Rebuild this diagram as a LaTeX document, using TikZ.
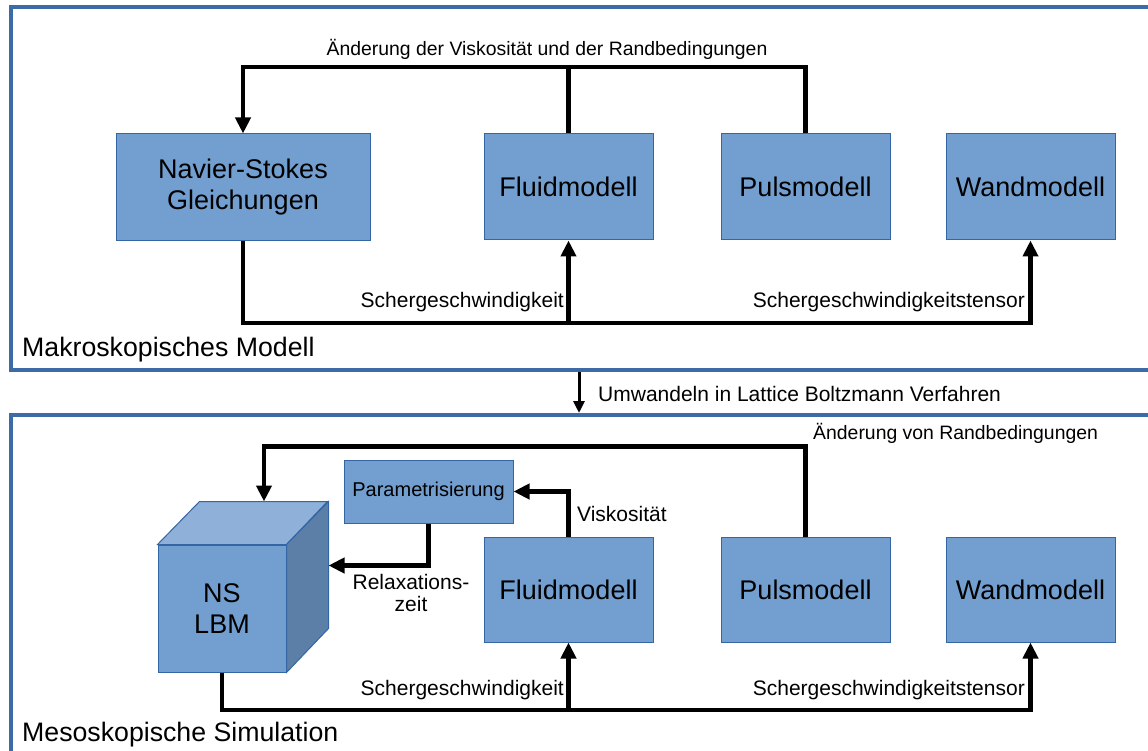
\documentclass[tikz,border=0pt]{standalone}
\usepackage{fontspec}
\setmainfont{Liberation Sans}
\usetikzlibrary{arrows.meta,calc}
\definecolor{boxblue}{HTML}{729FCF}
\definecolor{boxline}{HTML}{3465A4}
\definecolor{cubetop}{HTML}{8EB0D9}
\definecolor{cubeside}{HTML}{5C7FA8}
\definecolor{framecol}{HTML}{3D6BA8}
\begin{document}
\begin{tikzpicture}[x=1pt, y=-1pt,
    block/.style={draw=boxline, line width=1pt, fill=boxblue, minimum width=169pt,
      minimum height=106pt, inner sep=0pt, align=center, font=\fontsize{27}{31}\selectfont},
    lbl/.style={inner sep=0pt, align=center, font=\fontsize{21}{22}\selectfont},
    small/.style={lbl, font=\fontsize{19.4}{22}\selectfont},
    title/.style={inner sep=0pt, anchor=west, font=\fontsize{26.7}{30}\selectfont},
    frame/.style={draw=framecol, line width=3.5pt},
    line/.style={line width=4.5pt},
    conn/.style={line, -{Triangle[width=15pt,length=16pt]}}]
  \clip (0,0) rectangle (1148,751);
  % frames
  \draw[frame] (11,7) rectangle (1170,370);
  \draw[frame] (11,415) rectangle (1170,780);
  \coordinate (makro) at (579,372);
  \coordinate (meso) at (579,413);
  \draw[line width=3pt, -{Triangle[width=11pt,length=12pt]}] (makro) -- (meso);
  \node[lbl, anchor=west] (umw) at (598,394) {Umwandeln in Lattice Boltzmann Verfahren};
  \node[title] (makrotitle) at (22,350) {Makroskopisches Modell};
  \node[title] (mesotitle) at (22,735) {Mesoskopische Simulation};

  % makroskopisches Modell
  \node[block, minimum width=254pt, minimum height=107pt] (ns) at (243,187.5) {Navier-Stokes\\Gleichungen};
  \node[block] (fluidA) at (568.5,187) {Fluidmodell};
  \node[block] (pulsA) at (805.5,187) {Pulsmodell};
  \node[block] (wandA) at (1030.5,187) {Wandmodell};
  \coordinate (topbus) at (0,67);
  \coordinate (busA) at (0,323);
  \draw[conn] (fluidA.north) -- (fluidA.north |- topbus) -| (ns.north);
  \draw[line] (pulsA.north) |- (fluidA.north |- topbus);
  \node[small] (aend) at (547,49) {Änderung der Viskosität und der Randbedingungen};
  \draw[conn] (ns.south) -- (ns.south |- busA) -| (wandA.south);
  \draw[conn] (fluidA.south |- busA) -- (fluidA.south);
  \node[lbl, anchor=east] (scherA) at (564,302) {Schergeschwindigkeit};
  \node[lbl, anchor=east] (tensA) at (1025,302) {Schergeschwindigkeitstensor};

  % mesoskopische Simulation
  \node[block, minimum width=128pt, minimum height=127pt] (cube) at (222,608.5) {NS\\LBM};
  \draw[draw=boxline, line width=1pt, fill=cubetop] (cube.north west) -- ++(42,-43) -- ++(128,0) -- (cube.north east) -- cycle;
  \draw[draw=boxline, line width=1pt, fill=cubeside] (cube.north east) -- ++(42,-43) -- ++(0,127) -- (cube.south east) -- cycle;
  \coordinate (cubetop) at ($(cube.north)+(42,-43)$);
  \coordinate (cuberight) at ($(cube.east)+(42,-43)$);
  \node[block, minimum height=63pt, font=\fontsize{20}{22}\selectfont] (param) at (428.5,491.5) {Parametrisierung};
  \node[block, minimum height=105pt] (fluidB) at (568.5,589.5) {Fluidmodell};
  \node[block, minimum height=105pt] (pulsB) at (805.5,589.5) {Pulsmodell};
  \node[block, minimum height=105pt] (wandB) at (1030.5,589.5) {Wandmodell};
  \coordinate (busB) at (0,710);
  \draw[conn] (pulsB.north) -- ++(0,-90) -| (cubetop);
  \node[small, anchor=west] (aendB) at (813,433) {Änderung von Randbedingungen};
  \draw[conn] (fluidB.north) |- (param.east);
  \node[lbl, anchor=west] (visk) at (577,514) {Viskosität};
  \draw[conn] (param.south) |- (cuberight);
  \node[lbl] (relax) at (411,593) {Relaxations-\\zeit};
  \draw[conn] (cube.south) -- (cube.south |- busB) -| (wandB.south);
  \draw[conn] (fluidB.south |- busB) -- (fluidB.south);
  \node[lbl, anchor=east] (scherB) at (564,690) {Schergeschwindigkeit};
  \node[lbl, anchor=east] (tensB) at (1025,690) {Schergeschwindigkeitstensor};
\end{tikzpicture}
\end{document}
